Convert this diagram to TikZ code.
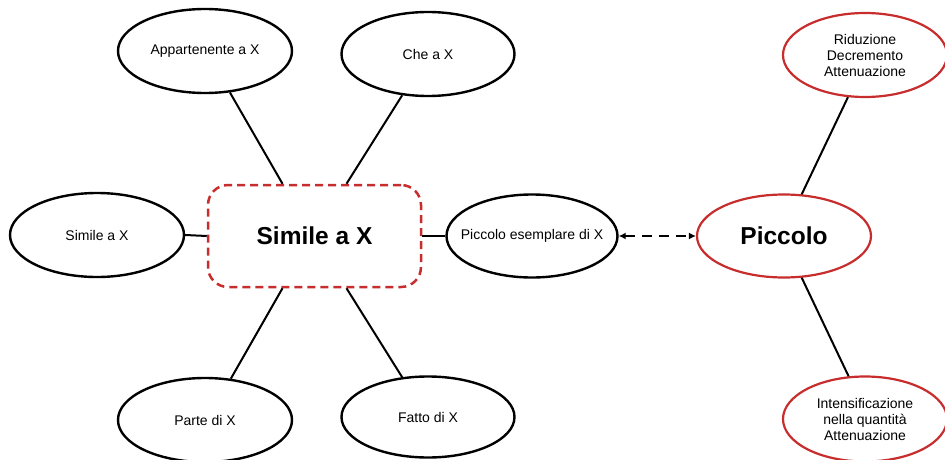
\documentclass[tikz,border=0pt]{standalone}
\usepackage{fontspec}
\setmainfont{Liberation Sans}
\usetikzlibrary{shapes.geometric,arrows.meta}
\definecolor{mapred}{RGB}{200,45,45}
\tikzset{
  bubble/.style={ellipse, draw=black, line width=2.4pt, fill=white, inner sep=0pt,
    minimum width=174pt, minimum height=84pt, font=\fontsize{14}{16}\selectfont, align=center},
  redbubble/.style={bubble, draw=mapred, line width=2.2pt},
  centerbox/.style={rectangle, rounded corners=20pt, draw=mapred, line width=2.5pt,
    dash pattern=on 8pt off 5pt, fill=white, minimum width=213pt, minimum height=102pt,
    inner sep=0pt, font=\fontsize{24.5}{28}\bfseries\selectfont},
  link/.style={line width=2pt, black},
  duallink/.style={line width=2pt, black, dash pattern=on 10pt off 7pt,
    {Latex[length=7pt,width=7pt]}-{Latex[length=7pt,width=7pt]}}
}
\begin{document}
\begin{tikzpicture}[x=1pt,y=1pt]
\useasboundingbox (0,0) rectangle (945,459);
% nodes (y measured from the bottom)
\node[centerbox] (box) at (314.5,223) {Simile a X};
\node[bubble] (app) at (205,408) {Appartenente a X};
\node[bubble, minimum width=173pt] (che) at (428,405) {Che a X};
\node[bubble] (sim) at (97,224) {Simile a X};
\node[bubble, minimum width=171pt, minimum height=83pt, inner xsep=-12pt] (pes) at (532,223) {Piccolo esemplare di X};
\node[bubble] (par) at (205,39) {Parte di X};
\node[bubble, minimum width=173pt, minimum height=81pt] (fat) at (428,42) {Fatto di X};
\node[redbubble, minimum width=174pt, minimum height=83pt, font=\fontsize{24.5}{28}\bfseries\selectfont] (pic) at (784,223) {Piccolo};
\node[redbubble, minimum width=164pt, minimum height=84pt] (rid) at (865,404) {Riduzione\\Decremento\\Attenuazione};
\node[redbubble, minimum width=164pt, minimum height=85pt] (int) at (865,40) {Intensificazione\\nella quantità\\Attenuazione};
% connectors
\draw[link] (app.-59) -- ([xshift=-32pt]box.north);
\draw[link] (che.-122) -- ([xshift=32pt]box.north);
\draw[link] (par.58) -- ([xshift=-32pt]box.south);
\draw[link] (fat.123) -- ([xshift=32pt]box.south);
\draw[link] (sim.east) -- (box.west);
\draw[link] (box.east) -- (pes.west);
\draw[duallink] (pes.east) -- (pic.west);
\draw[link] (pic.67) -- (rid.-112);
\draw[link] (pic.-67) -- (int.111);
\end{tikzpicture}
\end{document}
